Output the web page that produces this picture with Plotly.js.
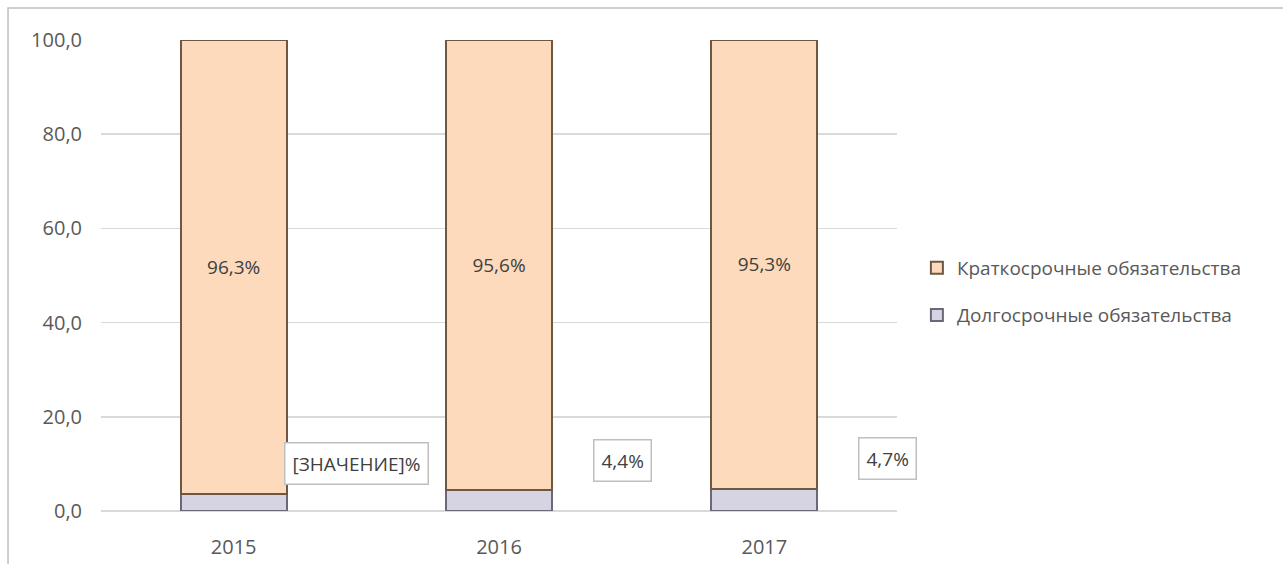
<!DOCTYPE html>
<html>
<head>
<meta charset="utf-8">
<script src="https://cdn.plot.ly/plotly-3.0.1.min.js"></script>
<style>
  body { margin: 0; background: #fff; }
  #chart { width: 1283px; height: 564px; }
</style>
</head>
<body>
<div id="chart"></div>
<script>
// Data
const years = ['2015', '2016', '2017'];
const shortTerm = [96.3, 95.6, 95.3];   // Краткосрочные обязательства, %
const longTerm = [3.7, 4.4, 4.7];       // Долгосрочные обязательства, %
const shortLabels = ['96,3%', '95,6%', '95,3%'];
const longLabels = ['[ЗНАЧЕНИЕ]%', '4,4%', '4,7%'];
const seriesNames = ['Краткосрочные обязательства', 'Долгосрочные обязательства'];

const font = 'Open Sans, Liberation Sans, sans-serif';
const grey = '#595959';

// bar positions = index of the year
var xPos = years.map((y, i) => i);

var longTrace = {
    x: xPos,
    y: longTerm,
    name: seriesNames[1],
    type: 'bar',
    marker: { color: '#d6d3e2', line: { color: '#6c6878', width: 2 } },
    legend: 'legend2',
    hoverinfo: 'none'
};

var shortTrace = {
    x: xPos,
    y: shortTerm,
    name: seriesNames[0],
    type: 'bar',
    text: shortLabels,
    textposition: 'inside',
    insidetextanchor: 'middle',
    textangle: 0,
    textfont: { family: font, size: 19, color: '#404040' },
    marker: { color: '#fcdabb', line: { color: '#6e5843', width: 2 } },
    legend: 'legend',
    hoverinfo: 'none'
};

// Labels of the lower series, boxed and set to the right of each bar
var annotations = [];
for (let i = 0; i < years.length; i++) {
    annotations.push({
        x: xPos[i],
        y: longTerm[i],
        xref: 'x',
        yref: 'y',
        text: longLabels[i],
        showarrow: false,
        xshift: 123,
        yshift: 30,
        font: { family: font, size: 19, color: '#404040' },
        bordercolor: '#bfbfbf',
        borderwidth: 1.5,
        borderpad: 7,
        bgcolor: '#ffffff'
    });
}

var layout = {
    width: 1283,
    height: 564,
    margin: { l: 101, r: 386, t: 40, b: 53 },
    paper_bgcolor: '#ffffff',
    plot_bgcolor: '#ffffff',
    separators: ',.',
    barmode: 'stack',
    bargap: 0.6,
    showlegend: true,
    font: { family: font, size: 20, color: grey },
    xaxis: {
        range: [-0.5, 2.5],
        tickvals: xPos,
        ticktext: years,
        showgrid: false,
        zeroline: false,
        showline: false,
        ticks: '',
        ticklabelstandoff: 22,
        tickfont: { family: font, size: 20, color: grey }
    },
    yaxis: {
        range: [0, 100],
        dtick: 20,
        tickformat: '.1f',
        showgrid: true,
        gridcolor: '#d9d9d9',
        gridwidth: 1.5,
        zeroline: true,
        zerolinecolor: '#d9d9d9',
        zerolinewidth: 1.5,
        showline: false,
        ticks: '',
        ticklabelstandoff: 18,
        tickfont: { family: font, size: 20, color: grey }
    },
    legend: {
        x: 1.025, y: 0.516, xanchor: 'left', yanchor: 'middle',
        font: { family: font, size: 19, color: grey },
        bgcolor: 'rgba(0,0,0,0)'
    },
    legend2: {
        x: 1.025, y: 0.416, xanchor: 'left', yanchor: 'middle',
        font: { family: font, size: 19, color: grey },
        bgcolor: 'rgba(0,0,0,0)'
    },
    annotations: annotations,
    shapes: [{
        type: 'rect',
        xref: 'paper', yref: 'paper',
        x0: -0.1168, x1: 1.7, y0: -0.3, y1: 1.068,
        line: { color: '#bfbfbf', width: 1.5 },
        fillcolor: 'rgba(0,0,0,0)',
        layer: 'below'
    }]
};

Plotly.newPlot('chart', [longTrace, shortTrace], layout, { displayModeBar: false, staticPlot: true });
</script>
</body>
</html>
